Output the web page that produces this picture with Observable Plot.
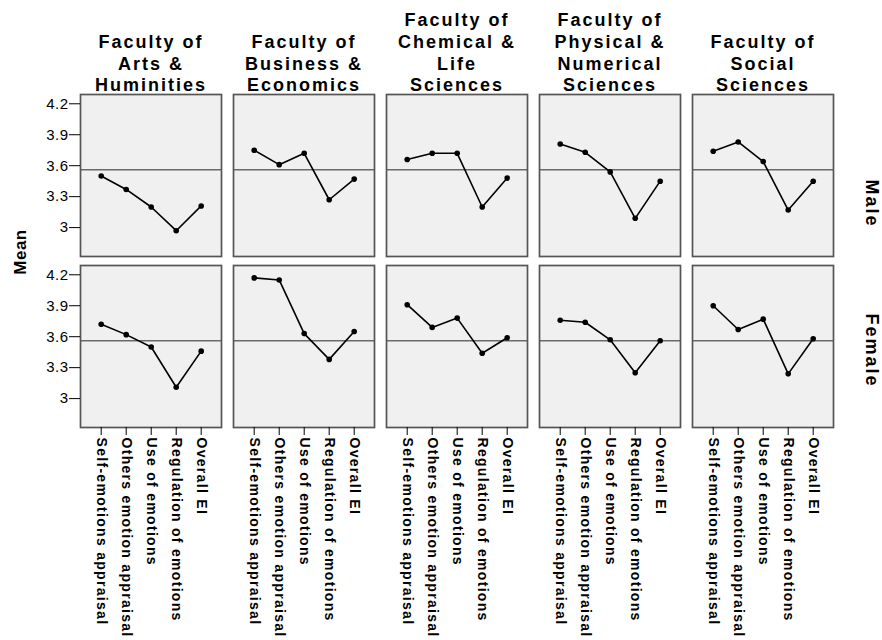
<!DOCTYPE html>
<html>
<head>
<meta charset="utf-8">
<script src="https://cdn.jsdelivr.net/npm/d3@7"></script>
<script src="https://cdn.jsdelivr.net/npm/@observablehq/plot@0.6"></script>
<style>
  html, body { margin: 0; padding: 0; background: #fff; }
  #chart svg { display: block; font-family: "Liberation Sans", Arial, sans-serif; }
  #chart g[aria-label="text"] text { letter-spacing: 2px; }
  #chart g[aria-label="x-axis tick label"] { font-weight: bold; font-size: 14px; letter-spacing: 1.3px; }
  #chart g[aria-label="y-axis tick label"] { font-size: 15px; letter-spacing: 0.5px; }
  #chart text.mean-label { font-size: 17px; font-weight: bold; letter-spacing: 0.5px; }
</style>
</head>
<body>
<div id="chart"></div>
<script>
const faculties = ["Arts", "Business", "Chemical", "Physical", "Social"];
const facultyLabels = [
  "Faculty of\nArts &\nHuminities",
  "Faculty of\nBusiness &\nEconomics",
  "Faculty of\nChemical &\nLife\nSciences",
  "Faculty of\nPhysical &\nNumerical\nSciences",
  "Faculty of\nSocial\nSciences"
];
const sexes = ["Male", "Female"];
const measures = ["Self-emotions appraisal", "Others emotion appraisal", "Use of emotions", "Regulation of emotions", "Overall EI"];
const yTicks = [3, 3.3, 3.6, 3.9, 4.2];
const grandMean = 3.56;

// rows: faculties; columns: measures
const maleMeans = [
  [3.50, 3.37, 3.20, 2.97, 3.21],
  [3.75, 3.61, 3.72, 3.27, 3.47],
  [3.66, 3.72, 3.72, 3.20, 3.48],
  [3.81, 3.73, 3.54, 3.09, 3.45],
  [3.74, 3.83, 3.64, 3.17, 3.45]
];
const femaleMeans = [
  [3.72, 3.62, 3.50, 3.11, 3.46],
  [4.17, 4.15, 3.63, 3.38, 3.65],
  [3.91, 3.69, 3.78, 3.44, 3.59],
  [3.76, 3.74, 3.57, 3.25, 3.56],
  [3.90, 3.67, 3.77, 3.24, 3.58]
];

const data = [];
faculties.forEach((f, i) => {
  measures.forEach((m, j) => {
    data.push({faculty: f, sex: "Male", measure: m, value: maleMeans[i][j]});
    data.push({faculty: f, sex: "Female", measure: m, value: femaleMeans[i][j]});
  });
});
const headerData = faculties.map((f, i) => ({faculty: f, sex: "Male", label: facultyLabels[i]}));
const lastFaculty = faculties[faculties.length - 1];

const chart = Plot.plot({
  width: 882,
  height: 640,
  marginLeft: 79.3,
  marginRight: 48.2,
  marginTop: 94,
  marginBottom: 212.7,
  style: {fontFamily: "'Liberation Sans', Arial, sans-serif", color: "#000", background: "#fff"},
  fx: {domain: faculties, paddingInner: 0.0767, paddingOuter: 0, axis: null},
  fy: {domain: sexes, paddingInner: 0.0543, paddingOuter: 0, axis: null},
  x: {type: "point", domain: measures, padding: 0.78, axis: null},
  y: {domain: [2.72, 4.29], axis: null},
  marks: [
    Plot.frame({fill: "#f0f0f0"}),
    Plot.ruleY([grandMean], {stroke: "#6a6a6a", strokeWidth: 1.6}),
    Plot.line(data, {fx: "faculty", fy: "sex", x: "measure", y: "value", stroke: "#000", strokeWidth: 1.6}),
    Plot.dot(data, {fx: "faculty", fy: "sex", x: "measure", y: "value", r: 2.8, fill: "#000", stroke: "none"}),
    Plot.frame({stroke: "#555", strokeWidth: 1.7}),
    Plot.axisY({ticks: yTicks, tickFormat: d => String(d), tickSize: 11, tickPadding: 1, label: null, stroke: "#000"}),
    Plot.axisX({tickRotate: 90, tickSize: 8, tickPadding: 2, label: null, stroke: "#000"}),
    Plot.text(headerData, {fx: "faculty", fy: "sex", frameAnchor: "top", text: "label", lineAnchor: "bottom", lineHeight: 1.2, dy: -3.3, fontSize: 18, fontWeight: "bold", fill: "#000"}),
    Plot.text([{faculty: lastFaculty, sex: "Male"}], {fx: "faculty", fy: "sex", frameAnchor: "right", text: d => d.sex, rotate: 90, dx: 38, dy: 52, fontSize: 18, fontWeight: "bold", fill: "#000"}),
    Plot.text([{faculty: lastFaculty, sex: "Female"}], {fx: "faculty", fy: "sex", frameAnchor: "right", text: d => d.sex, rotate: 90, dx: 38, dy: 41, fontSize: 18, fontWeight: "bold", fill: "#000"})
  ]
});

d3.select(chart).append("text")
  .attr("class", "mean-label")
  .attr("transform", "translate(20,252) rotate(-90)")
  .attr("text-anchor", "middle")
  .attr("dy", "0.35em")
  .attr("fill", "#000")
  .text("Mean");

document.getElementById("chart").appendChild(chart);
</script>
</body>
</html>
